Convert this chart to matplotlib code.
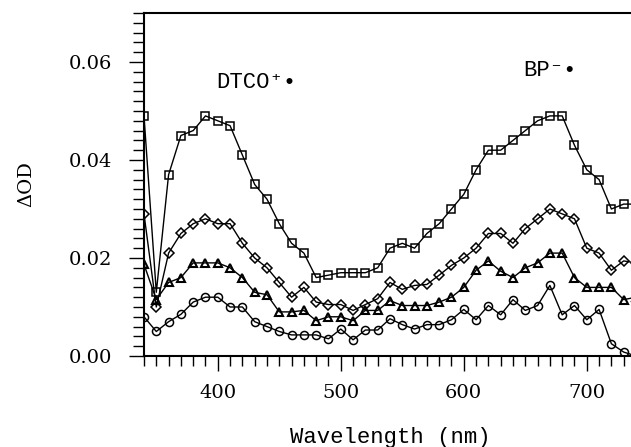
import matplotlib
matplotlib.use('Agg')
import matplotlib.pyplot as plt
from matplotlib.ticker import MultipleLocator
import numpy as np

wavelength = np.arange(340, 750, 10)

# delta OD traces (top to bottom)
od_square = [0.049, 0.013, 0.037, 0.045, 0.046, 0.049, 0.048, 0.047, 0.041, 0.035,
             0.032, 0.027, 0.023, 0.021, 0.016, 0.0165, 0.017, 0.017, 0.017, 0.018,
             0.022, 0.023, 0.022, 0.025, 0.027, 0.030, 0.033, 0.038, 0.042, 0.042,
             0.044, 0.046, 0.048, 0.049, 0.049, 0.043, 0.038, 0.036, 0.030, 0.031,
             0.031]
od_diamond = [0.029, 0.010, 0.021, 0.025, 0.027, 0.028, 0.027, 0.027, 0.023, 0.020,
              0.018, 0.015, 0.012, 0.014, 0.011, 0.0105, 0.0105, 0.0093, 0.0105, 0.0117,
              0.015, 0.0136, 0.0144, 0.0146, 0.0165, 0.0185, 0.020, 0.022, 0.025, 0.025,
              0.023, 0.026, 0.028, 0.030, 0.029, 0.028, 0.022, 0.021, 0.0175, 0.0194,
              0.019]
od_triangle = [0.0187, 0.0115, 0.015, 0.016, 0.019, 0.019, 0.019, 0.018, 0.016, 0.013,
               0.0125, 0.009, 0.009, 0.0093, 0.0072, 0.008, 0.008, 0.0072, 0.0093, 0.0093,
               0.0113, 0.0103, 0.0103, 0.0103, 0.011, 0.012, 0.014, 0.0175, 0.0194, 0.0173,
               0.016, 0.018, 0.019, 0.021, 0.021, 0.016, 0.014, 0.014, 0.014, 0.0115,
               0.012]
od_circle = [0.008, 0.005, 0.007, 0.0085, 0.011, 0.012, 0.012, 0.010, 0.010, 0.007,
             0.006, 0.005, 0.0043, 0.0043, 0.0043, 0.0035, 0.0055, 0.0033, 0.0053, 0.0053,
             0.0076, 0.0064, 0.0055, 0.0064, 0.0064, 0.0074, 0.0095, 0.0074, 0.0103, 0.0084,
             0.0115, 0.0093, 0.0103, 0.0144, 0.0084, 0.0103, 0.0074, 0.0095, 0.0025, 0.0008,
             0.0]

MONO = ['Liberation Mono', 'DejaVu Sans Mono']
SERIF = ['DejaVu Serif']
plt.rcParams['font.family'] = MONO


def main():
    fig = plt.figure(figsize=(6.31, 4.47), dpi=100)
    ax = fig.add_axes([0.2282, 0.2036, 0.7797, 0.7673])

    style = dict(color='black', lw=1.0, mfc='none', mec='black')
    ax.plot(wavelength, od_square, marker='s', ms=5.8, mew=1.1, **style)
    ax.plot(wavelength, od_diamond, marker='D', ms=5.2, mew=1.1, **style)
    ax.plot(wavelength, od_triangle, marker='^', ms=5.2, mew=1.5, **style)
    ax.plot(wavelength, od_circle, marker='o', ms=5.8, mew=1.1, **style)

    ax.set_xlim(340, 740)
    ax.set_ylim(0, 0.070)
    ax.xaxis.set_major_locator(MultipleLocator(100))
    ax.xaxis.set_minor_locator(MultipleLocator(10))
    ax.yaxis.set_major_locator(MultipleLocator(0.02))
    ax.yaxis.set_minor_locator(MultipleLocator(0.002))
    ax.set_yticks([0.0, 0.02, 0.04, 0.06])
    ax.set_yticklabels(['0.00', '0.02', '0.04', '0.06'])

    ax.tick_params(which='both', direction='out', width=1.0, labelsize=14)
    ax.tick_params(axis='y', which='major', length=11, pad=12)
    ax.tick_params(axis='y', which='minor', length=8)
    ax.tick_params(axis='x', which='major', length=11, pad=9)
    ax.tick_params(axis='x', which='minor', length=7)
    for lab in ax.get_xticklabels() + ax.get_yticklabels():
        lab.set_family(SERIF)

    for side in ['left', 'bottom', 'top']:
        ax.spines[side].set_linewidth(1.5)
    ax.spines['right'].set_visible(False)

    ax.set_xlabel('Wavelength (nm)', fontsize=16, labelpad=18)
    ax.set_ylabel('\u0394OD', fontsize=14, labelpad=24, family=SERIF)

    ax.text(399, 0.0559, 'DTCO\u207a\u2022', fontsize=16, va='center', ha='left', family=MONO)
    ax.text(648, 0.0582, 'BP\u207b\u2022', fontsize=16, va='center', ha='left', family=MONO)

    fig.savefig('out.png', dpi=100)


if __name__ == '__main__':
    main()
